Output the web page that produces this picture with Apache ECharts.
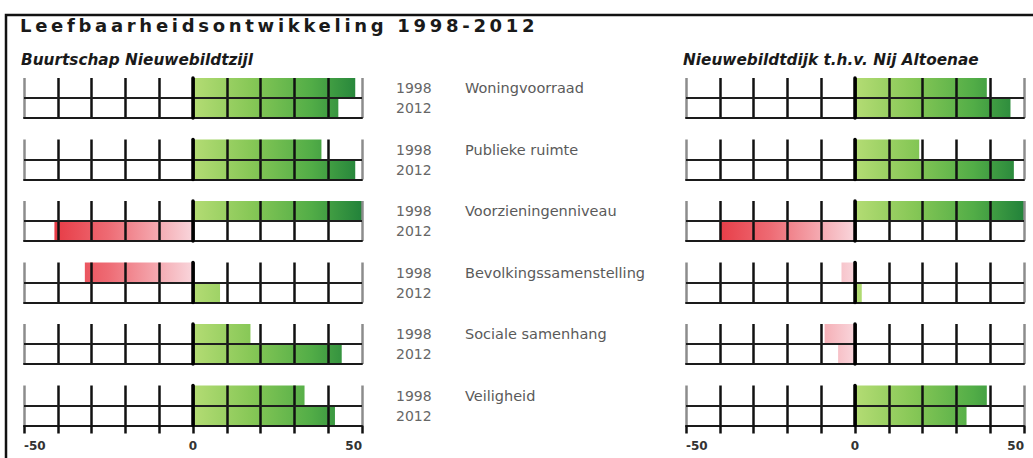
<!DOCTYPE html>
<html><head><meta charset="utf-8">
<script src="https://cdn.jsdelivr.net/npm/echarts@6/dist/echarts.min.js"></script>
<style>html,body{margin:0;padding:0;background:#fff}#c{width:1033px;height:458px}</style>
</head><body><div id="c"></div>
<script>
// ---------- data ----------
const titleText = 'Leefbaarheidsontwikkeling 1998-2012';
const panelTitles = ['Buurtschap Nieuwebildtzijl', 'Nieuwebildtdijk t.h.v. Nij Altoenae'];
const categories = ['Woningvoorraad', 'Publieke ruimte', 'Voorzieningenniveau', 'Bevolkingssamenstelling', 'Sociale samenhang', 'Veiligheid'];
const years = ['1998', '2012'];
const left1998 = [48, 38, 50, -32, 17, 33];
const left2012 = [43, 48, -41, 8, 44, 42];
const right1998 = [39, 19, 50, -4, -9, 39];
const right2012 = [46, 47, -40, 2, -5, 33];
const tickLabels = [-50, 0, 50];
const axisMin = -50, axisMax = 50, axisStep = 10;

// ---------- layout ----------
const panelLeft = [24, 686];
const panelWidth = 338;
const rowTop0 = 78, rowStep = 61.5, rowH = 40;
const font = 'DejaVu Sans';

const panels = [[left1998, left2012], [right1998, right2012]];

function greenGrad(p) {
  const x0 = panelLeft[p] + panelWidth / 2, x1 = panelLeft[p] + panelWidth;
  return new echarts.graphic.LinearGradient(x0, 0, x1, 0, [
    { offset: 0, color: '#b4dc74' },
    { offset: 0.35, color: '#86c756' },
    { offset: 0.7, color: '#52ad47' },
    { offset: 1, color: '#22823a' }
  ], true);
}
function redGrad(p) {
  const x0 = panelLeft[p], x1 = panelLeft[p] + panelWidth / 2;
  return new echarts.graphic.LinearGradient(x0, 0, x1, 0, [
    { offset: 0, color: '#e3202b' },
    { offset: 0.5, color: '#ee6b74' },
    { offset: 1, color: '#f9d6dc' }
  ], true);
}

const grid = [], xAxis = [], yAxis = [], series = [], graphic = [];
const splitColors = [];
for (let v = axisMin; v <= axisMax; v += axisStep) {
  splitColors.push(v === axisMin || v === axisMax ? '#8c8c8c' : '#111');
}

panels.forEach((pd, p) => {
  categories.forEach((cat, r) => {
    const gi = grid.length;
    const top = rowTop0 + r * rowStep;
    grid.push({ left: panelLeft[p], top: top, width: panelWidth, height: rowH, containLabel: false });
    const last = r === categories.length - 1;
    xAxis.push({
      gridIndex: gi, type: 'value', min: axisMin, max: axisMax, interval: axisStep, z: 3,
      axisLine: { show: true, onZero: false, lineStyle: { color: '#1a1a1a', width: 2 } },
      axisTick: { show: last, length: 8, lineStyle: { color: '#111', width: 2.5 } },
      splitLine: { show: true, lineStyle: { color: splitColors, width: 2.5 } },
      axisLabel: {
        show: last, margin: 14, fontFamily: font, fontWeight: 'bold', fontSize: 12, color: '#333',
        alignMinLabel: 'left', alignMaxLabel: 'right',
        formatter: v => tickLabels.includes(v) ? String(v) : ''
      }
    });
    const yi = yAxis.length;
    yAxis.push({
      gridIndex: gi, type: 'category', data: years.slice().reverse(), z: 4,
      axisLine: { show: true, onZero: true, lineStyle: { color: '#000', width: 3.5 } },
      axisTick: { show: false }, axisLabel: { show: false },
      splitLine: { show: true, lineStyle: { color: ['rgba(0,0,0,0)', '#1e1e1e', 'rgba(0,0,0,0)'], width: 2 } }
    });
    if (p === 0) {
      yAxis.push({
        gridIndex: gi, type: 'category', data: years.slice().reverse(), position: 'right',
        axisLine: { show: false, onZero: false }, axisTick: { show: false }, splitLine: { show: false },
        axisLabel: { show: true, margin: 34, fontFamily: font, fontSize: 14, color: '#666' }
      });
      graphic.push({
        type: 'text', x: 465, y: top + 10,
        style: { text: cat, fontFamily: font, fontSize: 14.5, fill: '#5a5a5a', verticalAlign: 'middle' }
      });
    }
    const vals = [pd[1][r], pd[0][r]]; // 2012 bottom, 1998 top
    series.push({
      type: 'bar', xAxisIndex: gi, yAxisIndex: yi, barCategoryGap: '0%', z: 2,
      silent: true,
      data: vals.map(v => ({ value: v, itemStyle: { color: v >= 0 ? greenGrad(p) : redGrad(p) } }))
    });
  });
});

graphic.push({
  type: 'polyline', shape: { points: [[6, 458], [6, 15], [1033, 15]] },
  style: { stroke: '#111', lineWidth: 2.5, fill: null }
});

const chart = echarts.init(document.getElementById('c'), null, { renderer: 'svg' });
chart.setOption({
  animation: false,
  backgroundColor: '#fff',
  title: [
    { text: titleText, left: 20, top: 16, padding: 0,
      textStyle: { fontFamily: font, fontWeight: 'bold', fontSize: 18, color: '#1a1a1a' } },
    { text: panelTitles[0], left: 21, top: 52, padding: 0,
      textStyle: { fontFamily: font, fontWeight: 'bold', fontStyle: 'italic', fontSize: 15.3, color: '#1a1a1a' } },
    { text: panelTitles[1], left: 683, top: 52, padding: 0,
      textStyle: { fontFamily: font, fontWeight: 'bold', fontStyle: 'italic', fontSize: 15.3, color: '#1a1a1a' } }
  ],
  grid, xAxis, yAxis, series, graphic
});

function spaceTitle() {
  document.querySelectorAll('#c text').forEach(t => {
    if (t.textContent === titleText) t.style.letterSpacing = '3.7px';
  });
}
spaceTitle();
chart.on('finished', spaceTitle);
</script>
</body></html>
